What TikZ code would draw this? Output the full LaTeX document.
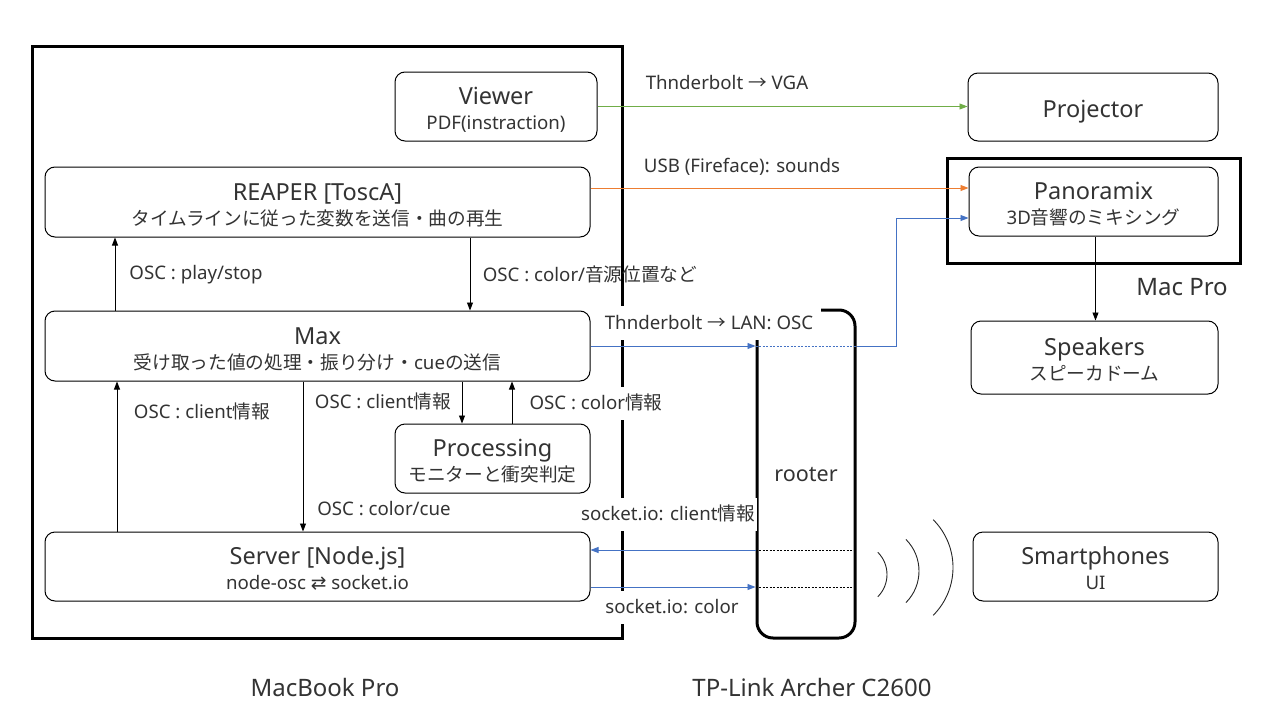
\documentclass[tikz,border=0pt]{standalone}
\usepackage{fontspec}
\setmainfont{Noto Sans}
\newfontfamily\jp{Noto Sans CJK JP}
\newfontfamily\dv{DejaVu Sans}
\usetikzlibrary{arrows.meta}
\definecolor{txt}{HTML}{333333}
\definecolor{cgreen}{HTML}{70AD47}
\definecolor{corange}{HTML}{ED7D31}
\definecolor{cblue}{HTML}{4472C4}
\newcommand{\ttl}[1]{{\fontsize{23.5}{26}\selectfont #1}}
\newcommand{\two}[2]{\raisebox{-23.3pt}[0pt][0pt]{\fontsize{18.67}{25}\selectfont
  \begin{tabular}[b]{@{}c@{}}\ttl{#1}\\#2\end{tabular}}}
\newcommand{\one}[1]{\raisebox{-10pt}[0pt][0pt]{\ttl{#1}}}
\tikzset{
  box/.style={draw=black, line width=1pt, rounded corners=10pt, text=txt,
    font=\fontsize{18.67}{25}\selectfont, inner sep=0pt},
  frame/.style={draw=black, line width=3pt, inner sep=0pt},
  lbl/.style={text=txt, font=\fontsize{18.67}{22}\selectfont, inner sep=0pt,
    text height=13.4pt, text depth=0pt},
  lblw/.style={lbl, fill=white, inner xsep=2pt, minimum height=33pt},
  big/.style={text=txt, font=\fontsize{24}{28}\selectfont, inner sep=0pt,
    text height=17.1pt, text depth=0pt},
  arr/.style={-{Triangle[length=8pt,width=6pt]}, line width=0.9pt},
  inner/.style={line width=0.8pt, dash pattern=on 2pt off 1.5pt},
}
\begin{document}
\begin{tikzpicture}[x=1pt,y=-1pt]
\fill[white] (0,0) rectangle (1280,720);
\useasboundingbox (0,0) rectangle (1280,720);

% frames
\node[frame, minimum width=590pt, minimum height=592pt] (mbp) at (327,342) {};
\node[frame, minimum width=293pt, minimum height=105pt] (macpro) at (1093.5,210.5) {};
\node[draw=black, line width=3pt, rounded corners=16pt, minimum width=98pt, minimum height=328pt,
  text=txt, font=\fontsize{21.5}{25}\selectfont, inner sep=0pt,
  text height=14pt, text depth=0pt] (rooter) at (806,474) {rooter};

% nodes
\node[box, minimum width=202pt, minimum height=69pt] (viewer) at (496,106.5)
  {\two{Viewer}{PDF(instraction)}};
\node[box, minimum width=250pt, minimum height=68pt] (projector) at (1093,107)
  {\one{Projector}};
\node[box, minimum width=545pt, minimum height=70pt] (reaper) at (317.5,202)
  {\two{REAPER [ToscA]}{\jp タイムラインに従った変数を送信・曲の再生}};
\node[box, minimum width=249pt, minimum height=69pt] (panoramix) at (1093.5,201.5)
  {\two{Panoramix}{3D{\jp 音響のミキシング}}};
\node[box, minimum width=247pt, minimum height=73pt] (speakers) at (1094.5,357.5)
  {\two{Speakers}{\jp スピーカドーム}};
\node[box, minimum width=545pt, minimum height=70pt] (max) at (317.5,346)
  {\two{Max}{{\jp 受け取った値の処理・振り分け・}cue{\jp の送信}}};
\node[box, minimum width=195pt, minimum height=69pt] (processing) at (492.5,458.5)
  {\two{Processing}{\jp モニターと衝突判定}};
\node[box, minimum width=545pt, minimum height=69pt] (server) at (317.5,566.5)
  {\two{Server [Node.js]}{node-osc {\dv ⇄} socket.io}};
\node[box, minimum width=245pt, minimum height=69pt] (smart) at (1095.5,566.5)
  {\two{Smartphones}{UI}};

% connectors
\draw[arr, cgreen] (viewer.east) -- (viewer.east -| projector.west);
\coordinate (o1) at ([yshift=14pt]reaper.east);
\draw[arr, corange] (o1) -- (o1 -| panoramix.west);
\coordinate (p1) at ([yshift=-16.5pt]panoramix.west);
\draw[arr, cblue] (max.east) -- (max.east -| rooter.west);
\draw[inner, cblue] (max.east -| rooter.west) -- (max.east -| rooter.east);
\draw[arr, cblue] (max.east -| rooter.east) -- ++(40,0) |- (p1);
\coordinate (s1) at ([yshift=16.5pt]server.east);
\coordinate (s2) at ([yshift=-20.5pt]server.east);
\draw[arr, cblue] (s1 -| rooter.west) -- (s1);
\draw[arr, cblue] (s2) -- (s2 -| rooter.west);
\draw[inner] (s1 -| rooter.west) -- (s1 -| rooter.east);
\draw[inner] (s2 -| rooter.west) -- (s2 -| rooter.east);

\draw[arr] ([xshift=152.5pt]reaper.south) -- ([xshift=152.5pt]max.north);
\draw[arr] ([xshift=-202.5pt]max.north) -- ([xshift=-202.5pt]reaper.south);
\draw[arr] ([xshift=-14.5pt]max.south) -- ([xshift=-14.5pt]server.north);
\draw[arr] ([xshift=-200.5pt]server.north) -- ([xshift=-200.5pt]max.south);
\draw[arr] ([xshift=144.5pt]max.south) -- ([xshift=-30.5pt]processing.north);
\draw[arr] ([xshift=19.5pt]processing.north) -- ([xshift=194.5pt]max.south);
\draw[arr] ([xshift=2pt]panoramix.south) -- ([xshift=2pt]panoramix.south |- speakers.north);

% wireless
\coordinate (w1) at (855.6,574.5);
\coordinate (w2) at (874.3,571);
\coordinate (w3) at (885.4,567.5);
\draw[line width=0.9pt, black!85] (w1) ++(-45:31.4) arc[start angle=-45, end angle=45, radius=31.4];
\draw[line width=0.9pt, black!85] (w2) ++(-45:44.7) arc[start angle=-45, end angle=45, radius=44.7];
\draw[line width=0.9pt, black!85] (w3) ++(-45:67.6) arc[start angle=-45, end angle=45, radius=67.6];

% labels
\node[lbl] (l1) at (727,83) {Thnderbolt {\jp →} VGA};
\node[lbl] (l2) at (742,166) {USB (Fireface): sounds};
\node[lbl] (l3) at (590,275) {OSC : color/{\jp 音源位置など}};
\node[lbl] (l4) at (196,273) {OSC : play/stop};
\node[lbl, fill=white, inner xsep=8pt, minimum height=34pt] (l5) at (709,322.5) {Thnderbolt {\jp →} LAN: OSC};
\node[lbl] (l6) at (202,412) {OSC : client{\jp 情報}};
\node[lbl] (l7) at (383,402) {OSC : client{\jp 情報}};
\node[lblw] (l8) at (596,403) {OSC : color{\jp 情報}};
\node[lbl] (l9) at (384,509) {OSC : color/cue};
\node[lblw] (l10) at (668,514) {socket.io: client{\jp 情報}};
\node[lblw] (l11) at (672,607) {socket.io: color};
\node[big] (l12) at (1182,287) {Mac Pro};
\node[big] (l13) at (325,688) {MacBook Pro};
\node[big] (l14) at (812,688) {TP-Link Archer C2600};
\end{tikzpicture}
\end{document}
